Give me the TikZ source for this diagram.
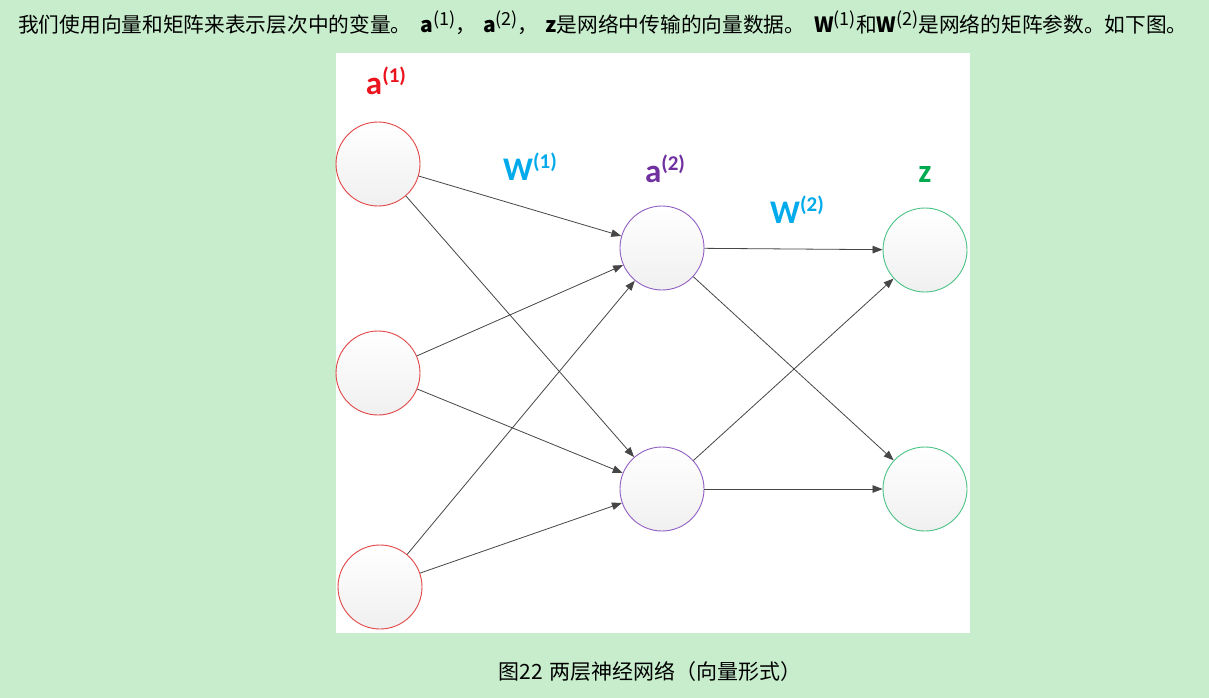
\documentclass[tikz,border=0pt]{standalone}
\usepackage{fontspec}
\setmainfont{DejaVu Sans}
\newfontfamily\cjk{Noto Sans CJK SC}
\newfontfamily\lbl{Carlito}
\usetikzlibrary{arrows.meta}
\definecolor{bggreen}{RGB}{199,237,204}
\definecolor{inred}{RGB}{226,70,70}
\definecolor{lblred}{RGB}{235,20,30}
\definecolor{hidpurple}{RGB}{145,95,195}
\definecolor{lblpurple}{RGB}{112,48,160}
\definecolor{outgreen}{RGB}{75,195,135}
\definecolor{lblgreen}{RGB}{0,170,80}
\definecolor{lblcyan}{RGB}{0,170,235}
\definecolor{edgegray}{RGB}{70,70,70}
\newcommand{\lsup}[1]{\raisebox{12pt}{\fontsize{21}{21}\selectfont #1}}
\newcommand{\tsup}[1]{\raisebox{7pt}{\fontsize{18}{18}\selectfont #1}}
\newcommand{\tbold}[1]{{\fontsize{21}{21}\selectfont\bfseries #1}}
\tikzset{neuron/.style={circle,minimum size=84pt,inner sep=0pt,
                        top color=white,bottom color=gray!12,line width=0.9pt}}
\tikzset{input/.style={neuron,draw=inred}}
\tikzset{hidden/.style={neuron,draw=hidpurple}}
\tikzset{output/.style={neuron,draw=outgreen}}
\tikzset{layerlabel/.style={font=\lbl\bfseries\fontsize{33}{33}\selectfont}}
\tikzset{link/.style={draw=edgegray,line width=0.8pt,-{Triangle[length=10pt,width=7.5pt]}}}

\begin{document}
\begin{tikzpicture}[x=1pt,y=-1pt]
    \useasboundingbox (0,0) rectangle (1209,698);
    \fill[bggreen] (0,0) rectangle (1209,698);
    \fill[white] (336,53) rectangle (970,633);

    % sentence above
    \node[anchor=west,inner sep=0pt,font=\cjk\fontsize{20.7}{20.7}\selectfont] (intro) at (18,23)
      {我们使用向量和矩阵来表示层次中的变量。\hspace{9pt}\tbold{a}\tsup{(1)}，\hspace{7pt}\tbold{a}\tsup{(2)}，\hspace{7pt}\tbold{z}是网络中传输的向量数据。\hspace{9pt}\tbold{W}\tsup{(1)}和\tbold{W}\tsup{(2)}是网络的矩阵参数。如下图。};

    % layer a(1)
    \foreach \x/\y [count=\i] in {378/164,378/373,380/587}{
        \node[input] (a\i) at (\x,\y) {};
    }
    % layer a(2)
    \foreach \y [count=\i] in {248,489}{
        \node[hidden] (h\i) at (662,\y) {};
    }
    % layer z
    \foreach \y [count=\i] in {250,489}{
        \node[output] (z\i) at (925,\y) {};
    }

    % W(1)
    \foreach \i in {1,2,3}{
        \foreach \j in {1,2}{
            \draw[link] (a\i) -- (h\j);
        }
    }
    % W(2)
    \foreach \i in {1,2}{
        \foreach \j in {1,2}{
            \draw[link] (h\i) -- (z\j);
        }
    }

    % Labels
    \node[layerlabel,text=lblred] (la1) at (386,81) {a\lsup{(1)}};
    \node[layerlabel,text=lblcyan] (lw1) at (530,167) {W\lsup{(1)}};
    \node[layerlabel,text=lblpurple] (la2) at (665,169) {a\lsup{(2)}};
    \node[layerlabel,text=lblcyan] (lw2) at (797,210) {W\lsup{(2)}};
    \node[layerlabel,text=lblgreen] (lz) at (925,174) {z};

    % caption
    \node[font=\cjk\fontsize{21}{21}\selectfont] (caption) at (650,672) {图22\hspace{6pt}两层神经网络（向量形式）};
\end{tikzpicture}
\end{document}
